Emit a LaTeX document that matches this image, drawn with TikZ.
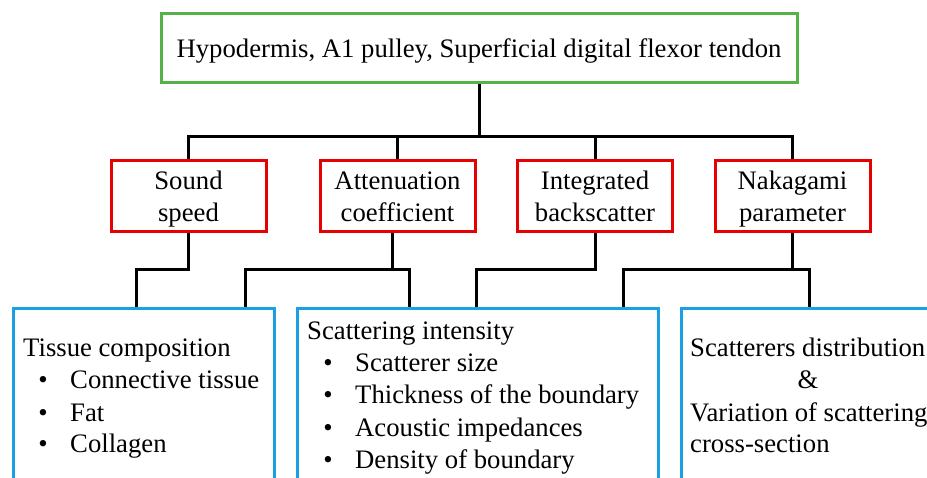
\documentclass[tikz,border=0pt]{standalone}
\usepackage{fontspec}
\setmainfont{Liberation Serif}
\definecolor{boxred}{RGB}{230,0,0}
\definecolor{boxblue}{RGB}{27,161,226}
\definecolor{boxgreen}{RGB}{84,178,72}
\begin{document}
\begin{tikzpicture}[x=1pt,y=-1pt,
  font=\fontsize{26.7}{32}\selectfont,
  conn/.style={line width=3pt, draw=black},
  redbox/.style={draw=boxred, line width=3pt, minimum width=155pt, minimum height=71pt, inner sep=0pt},
  greenbox/.style={draw=boxgreen, line width=3pt, minimum width=636pt, minimum height=69pt, inner sep=0pt},
  bluebox/.style={draw=boxblue, line width=3pt, inner sep=0pt, anchor=north west, minimum height=200pt},
  txt/.style={inner sep=0pt, anchor=base},
  ltxt/.style={inner sep=0pt, anchor=base west}]
\useasboundingbox (0,0) rectangle (927,478);
\clip (0,0) rectangle (927,478);

% boxes
\node[greenbox] (top) at (479,48.5) {};
\node[redbox] (ss) at (188.5,196.5) {};
\node[redbox] (at) at (397.5,196.5) {};
\node[redbox] (ib) at (595,196.5) {};
\node[redbox] (nk) at (792.5,196.5) {};
\node[bluebox, minimum width=261pt] (b1) at (12,307) {};
\node[bluebox, minimum width=361pt] (b2) at (296,307) {};
\node[bluebox, minimum width=280pt] (b3) at (680,307) {};

% connector end points on the lower boxes
\coordinate (b1a) at (136,307);
\coordinate (b1b) at (245,307);
\coordinate (b2a) at (409,307);
\coordinate (b2b) at (476,307);
\coordinate (b2c) at (623,307);
\coordinate (b3a) at (809,307);
\coordinate (bus) at (479,137);

% level 1 connectors
\draw[conn] (top.south) -- (bus);
\draw[conn] (ss.north) |- (bus) -| (nk.north);
\draw[conn] (at.north) -- (at.north |- bus);
\draw[conn] (ib.north) -- (ib.north |- bus);

% level 2 connectors
\draw[conn] (ss.south) -- ++(0,36) -| (b1a);
\draw[conn] ([xshift=-5pt]at.south) -- ++(0,36) coordinate (atj);
\draw[conn] (b1b) |- (atj) -| (b2a);
\draw[conn] (ib.south) -- ++(0,36) -| (b2b);
\draw[conn] ([xshift=-0.5pt]nk.south) -- ++(0,36) coordinate (nkj);
\draw[conn] (b2c) |- (nkj) -| (b3a);

% texts
\node[txt] (top-t) at (479,58) {Hypodermis, A1 pulley, Superficial digital flexor tendon};

\node[txt] (ss-t1) at (188.5,190) {Sound};
\node[txt] (ss-t2) at (188.5,222) {speed};
\node[txt] (at-t1) at (397.5,190) {Attenuation};
\node[txt] (at-t2) at (397.5,222) {coefficient};
\node[txt] (ib-t1) at (595,190) {Integrated};
\node[txt] (ib-t2) at (595,222) {backscatter};
\node[txt] (nk-t1) at (792.5,190) {Nakagami};
\node[txt] (nk-t2) at (792.5,222) {parameter};

\node[ltxt] (b1-t0) at (23,357) {Tissue composition};
\node[txt] (b1-d1) at (43,389) {•};
\node[ltxt] (b1-t1) at (70,389) {Connective tissue};
\node[txt] (b1-d2) at (43,421) {•};
\node[ltxt] (b1-t2) at (70,421) {Fat};
\node[txt] (b1-d3) at (43,453) {•};
\node[ltxt] (b1-t3) at (70,453) {Collagen};

\node[ltxt] (b2-t0) at (307,340) {Scattering intensity};
\node[txt] (b2-d1) at (328,372) {•};
\node[ltxt] (b2-t1) at (355,372) {Scatterer size};
\node[txt] (b2-d2) at (328,404) {•};
\node[ltxt] (b2-t2) at (355,404) {Thickness of the boundary};
\node[txt] (b2-d3) at (328,436) {•};
\node[ltxt] (b2-t3) at (355,436) {Acoustic impedances};
\node[txt] (b2-d4) at (328,468) {•};
\node[ltxt] (b2-t4) at (355,468) {Density of boundary};

\node[ltxt] (b3-t1) at (690,357) {Scatterers distribution};
\node[txt] (b3-t2) at (808,389) {\&};
\node[ltxt] (b3-t3) at (690,421) {Variation of scattering};
\node[ltxt] (b3-t4) at (690,453) {cross-section};
\end{tikzpicture}
\end{document}
